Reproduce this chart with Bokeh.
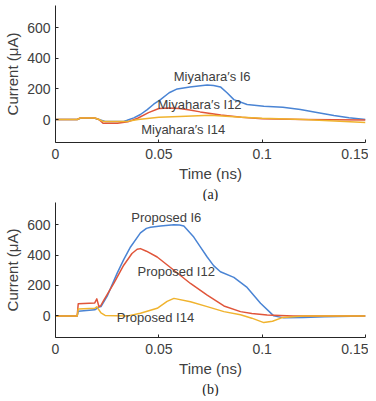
from bokeh.plotting import figure
from bokeh.layouts import column
from bokeh.models import Title, FixedTicker, Label
from bokeh.embed import file_html
from bokeh.resources import INLINE

# ---- data (a) Miyahara ----
t_a6 = [0, 0.0105, 0.012, 0.019, 0.021, 0.024, 0.033, 0.0347, 0.0379, 0.0411, 0.0444, 0.0475, 0.0508,
        0.055, 0.0589, 0.065, 0.0702, 0.0734, 0.0765, 0.0798, 0.083, 0.0863, 0.0927, 0.1008, 0.110,
        0.1185, 0.1258, 0.1347, 0.142, 0.15]
v_a6 = [0, 0, 8, 8, 0, -12, -12, -5, 11, 33, 65, 100, 130, 175, 200, 212, 221, 225, 223, 213, 175,
        130, 98, 87, 80, 65, 48, 26, 12, 0]

t_a12 = [0, 0.0105, 0.012, 0.019, 0.021, 0.023, 0.030, 0.035, 0.040, 0.045, 0.050, 0.055, 0.060,
         0.065, 0.070, 0.080, 0.090, 0.100, 0.120, 0.150]
v_a12 = [0, 0, 10, 10, 0, -24, -24, -15, 10, 45, 72, 76, 72, 62, 50, 30, 15, 5, 0, -3]

t_a14 = [0, 0.0105, 0.012, 0.019, 0.021, 0.023, 0.035, 0.040, 0.050, 0.060, 0.075, 0.090, 0.100,
         0.120, 0.140, 0.150]
v_a14 = [0, 0, 10, 10, 0, -12, -12, 0, 15, 20, 28, 15, 8, 0, -12, -20]

# ---- data (b) Proposed ----
t_b6 = [0, 0.0105, 0.011, 0.019, 0.021, 0.022, 0.025, 0.0298, 0.033, 0.0363, 0.0411, 0.0440, 0.0460,
        0.0508, 0.0573, 0.0600, 0.0621, 0.0669, 0.070, 0.0734, 0.0765, 0.0798, 0.0863, 0.0927,
        0.0992, 0.1056, 0.1105, 0.120, 0.130, 0.150]
v_b6 = [0, 0, 30, 40, 58, 61, 130, 279, 370, 453, 545, 575, 583, 590, 599, 597, 590, 518, 455, 387,
        330, 290, 253, 187, 83, 0, -13, -10, -5, 0]

t_b12 = [0, 0.0105, 0.011, 0.019, 0.020, 0.021, 0.0218, 0.0234, 0.0282, 0.033, 0.037, 0.0395, 0.0411,
         0.044, 0.0492, 0.0573, 0.0653, 0.0734, 0.0815, 0.0895, 0.095, 0.1024, 0.115, 0.150]
v_b12 = [0, 0, 80, 85, 112, 62, 65, 104, 213, 333, 410, 438, 442, 425, 387, 300, 213, 137, 65, 28, 16,
         6, 0, 0]

t_b14 = [0, 0.0105, 0.011, 0.019, 0.020, 0.022, 0.024, 0.035, 0.0411, 0.0492, 0.054, 0.0573, 0.0653,
         0.0734, 0.0815, 0.0895, 0.095, 0.1008, 0.105, 0.110, 0.120, 0.150]
v_b14 = [0, 0, 45, 50, 60, 20, 3, 0, 17, 50, 95, 115, 93, 61, 28, 7, -15, -44, -35, -10, 0, 0]

x_ticks = [0, 0.05, 0.1, 0.15]
x_tick_labels = {0: "0", 0.05: "0.05", 0.1: "0.1", 0.15: "0.15"}
y_ticks = [0, 200, 400, 600]

label_a = [("Miyahara\u2032s I6", 0.0758, 278), ("Miyahara\u2032s I12", 0.0697, 98),
           ("Miyahara\u2032s I14", 0.0618, -65)]
label_b = [("Proposed I6", 0.0536, 645), ("Proposed I12", 0.0584, 294),
           ("Proposed I14", 0.0484, -8)]

BLUE, RED, YEL = "#4A84D4", "#E0553A", "#F0B32E"
FONT = "Liberation Sans"
TXT = "#404040"


def make(series, labels, caption, yr, fh, top):
    p = figure(frame_width=310, frame_height=fh, x_range=(0, 0.15), y_range=yr,
               output_backend="svg", toolbar_location=None,
               min_border_left=55, min_border_right=3, min_border_top=top,
               min_border_bottom=40)
    p.outline_line_color = None
    p.grid.visible = False
    for t, v, c in series:
        p.line(t, v, line_color=c, line_width=1.5, line_join="round")
    for txt, x, y in labels:
        p.add_layout(Label(x=x, y=y, text=txt, text_align="center", text_baseline="middle",
                           text_font=FONT, text_font_size="13px", text_color=TXT))
    for ax in (p.xaxis[0], p.yaxis[0]):
        ax.axis_line_color = "#262626"
        ax.major_tick_line_color = "#262626"
        ax.major_tick_in = 3
        ax.major_tick_out = 0
        ax.minor_tick_line_color = None
        ax.major_label_text_font = FONT
        ax.major_label_text_font_size = "14px"
        ax.major_label_text_color = TXT
        ax.axis_label_text_font = FONT
        ax.axis_label_text_font_size = "15px"
        ax.axis_label_text_font_style = "normal"
        ax.axis_label_text_color = TXT
    p.xaxis.ticker = FixedTicker(ticks=x_ticks)
    p.xaxis.major_label_overrides = x_tick_labels
    p.yaxis.ticker = FixedTicker(ticks=y_ticks)
    p.xaxis.axis_label = "Time (ns)"
    p.yaxis.axis_label = "Current (\u03bcA)"
    p.xaxis.axis_label_standoff = 3
    p.yaxis.axis_label_standoff = 3
    p.xaxis.major_label_standoff = 6
    p.yaxis.major_label_standoff = 5
    p.add_layout(Title(text=caption, align="center", text_font="Liberation Serif",
                       text_font_size="14px", text_font_style="normal", text_color="#222222",
                       standoff=0), "below")
    return p


p1 = make([(t_a6, v_a6, BLUE), (t_a12, v_a12, RED), (t_a14, v_a14, YEL)], label_a, "(a)",
          (-150, 745), 137, 5)
p2 = make([(t_b6, v_b6, BLUE), (t_b12, v_b12, RED), (t_b14, v_b14, YEL)], label_b, "(b)",
          (-142, 745), 135, 1)

layout = column(p1, p2, spacing=0)
open("out.html", "w").write(file_html(layout, INLINE))
